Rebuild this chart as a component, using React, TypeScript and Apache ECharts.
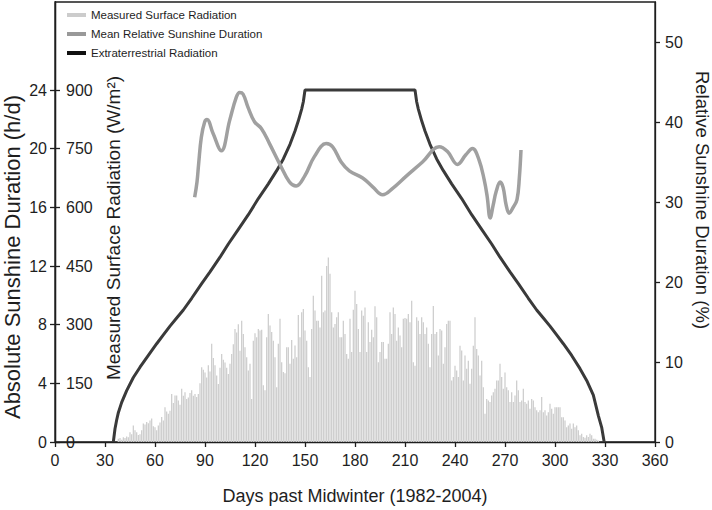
import React, { useEffect, useRef } from "react";
import * as echarts from "echarts";

// ---- Data ----
const X_TICKS = [0, 30, 60, 90, 120, 150, 180, 210, 240, 270, 300, 330, 360];
const HOURS_TICKS = [0, 4, 8, 12, 16, 20, 24];
const RADIATION_TICKS = [0, 150, 300, 450, 600, 750, 900];
const PERCENT_TICKS = [0, 10, 20, 30, 40, 50];

// Measured surface radiation (W/m²), one bar per day starting at day 38
const BAR_START_DAY = 38;
const measuredRadiation = [
  // 38-44
  8, 10, 6, 12, 10, 14, 12,
  // 45-54
  25, 20, 42, 30, 25, 18, 20, 30, 47, 45,
  // 55-64
  51, 48, 55, 60, 40, 38, 30, 42, 50, 64,
  // 65-74
  55, 89, 78, 72, 80, 123, 100, 119, 119, 106,
  // 75-84
  95, 136, 118, 127, 110, 114, 125, 132, 118, 123,
  // 85-94
  115, 123, 150, 191, 185, 178, 165, 196, 180, 251,
  // 95-104
  215, 196, 170, 148, 190, 225, 210, 203, 190, 174,
  // 105-110
  200, 225, 250, 289, 280, 301,
  // 111-120
  233, 310, 276, 242, 217, 183, 200, 110, 259, 278,
  // 121-130
  268, 289, 285, 287, 145, 132, 268, 327, 298, 281,
  // 131-140
  259, 217, 140, 251, 315, 204, 179, 176, 242, 242,
  // 141-150
  200, 261, 213, 247, 217, 325, 268, 332, 340, 285,
  // 151-160
  259, 191, 166, 289, 374, 336, 310, 310, 293, 425,
  // 161-170
  332, 336, 450, 472, 430, 332, 293, 302, 319, 332,
  // 171-180
  268, 268, 310, 276, 225, 213, 315, 230, 338, 387,
  // 181-190
  353, 289, 230, 336, 323, 344, 230, 306, 256, 287,
  // 191-200
  268, 347, 319, 204, 230, 256, 256, 213, 213, 251,
  // 201-206
  332, 276, 344, 327, 259, 293,
  // 207-216
  272, 242, 315, 317, 315, 327, 306, 361, 204, 195,
  // 217-226
  319, 310, 276, 319, 306, 276, 293, 251, 191, 276,
  // 227-236
  348, 276, 281, 221, 289, 285, 200, 242, 302, 310,
  // 237-246
  310, 157, 166, 195, 183, 166, 246, 234, 157, 221,
  // 247-256
  187, 208, 149, 187, 246, 319, 238, 221, 170, 208,
  // 257-266
  140, 72, 110, 106, 102, 119, 127, 136, 157, 157,
  // 267-276
  200, 166, 136, 178, 140, 132, 102, 127, 102, 119,
  // 277-286
  157, 132, 102, 106, 136, 102, 98, 106, 85, 110,
  // 287-296
  106, 89, 81, 76, 81, 115, 76, 81, 68, 76,
  // 297-306
  98, 85, 72, 89, 89, 89, 89, 63, 63, 55,
  // 307-316
  38, 42, 47, 34, 47, 38, 42, 30, 17, 21,
  // 317-326
  13, 11, 17, 13, 21, 17, 8, 8, 6, 4,
];

// Mean relative sunshine duration (%)
const relDays = [
  83.8, 85.2, 86.2, 87.8, 89.8, 91.2, 94.8, 99.8, 104.8, 108.8, 110.8, 112.8,
  115.7, 119.8, 123.8, 128.7, 134.7, 140.7, 144.7, 149.7, 155.7, 162.7, 166.6,
  171.7, 176.6, 184.6, 190.6, 196.6, 202.6, 210.6, 220.5, 230.5, 235.5, 241.5,
  246.5, 250.5, 254.5, 257.5, 259.3, 261.1, 262.9, 264.7, 267.1, 268.9, 270.7,
  272.5, 274.8, 277.2, 278.6, 279.6,
];
const relSunshine = [
  30.6, 32.5, 34.8, 38.1, 40.0, 40.3, 38.6, 36.4, 40.2, 43.1, 43.7, 43.5,
  41.9, 40.0, 39.2, 37.3, 34.8, 32.5, 32.0, 33.2, 35.7, 37.3, 36.9,
  35.0, 33.9, 33.0, 31.9, 30.9, 31.7, 33.2, 35.0, 36.9, 36.3, 34.7,
  35.9, 36.7, 35.2, 32.8, 30.7, 28.0, 29.6, 31.3, 32.5, 31.8, 29.6,
  28.6, 29.3, 30.3, 33.0, 36.5,
];

// Extraterrestrial radiation, expressed on the h/d scale
const extraDays = [
  35, 36, 37, 38, 40, 43, 47, 51, 56, 61, 65, 69, 73, 77, 82, 88, 93, 99, 104,
  110, 116, 122, 128, 133, 137, 141, 144, 146, 148, 149, 150, 216, 217, 218,
  220, 222, 225, 229, 233, 238, 244, 250, 256, 262, 267, 273, 278, 284, 289,
  293, 297, 301, 305, 310, 315, 319, 323, 326, 328, 329.5,
];
const extraHours = [
  0, 0.9, 1.5, 2.0, 2.7, 3.5, 4.4, 5.1, 5.9, 6.7, 7.3, 7.9, 8.45, 9.0, 9.8,
  10.8, 11.6, 12.6, 13.5, 14.5, 15.5, 16.6, 17.6, 18.5, 19.3, 20.3, 21.2, 21.9,
  22.7, 23.2, 24, 24, 23.2, 22.7, 21.9, 21.2, 20.3, 19.3, 18.5, 17.6, 16.6,
  15.5, 14.5, 13.5, 12.6, 11.6, 10.8, 9.8, 9.0, 8.45, 7.9, 7.3, 6.7, 5.9, 5.0,
  4.2, 3.2, 1.8, 1.0, 0,
];

const FONT = "'Liberation Sans', Arial, Helvetica, sans-serif";
const INK = "#1e1e1e";

export default function App() {
  const ref = useRef<HTMLDivElement>(null);

  useEffect(() => {
    if (!ref.current) return;
    const chart = echarts.init(ref.current, undefined, { renderer: "svg" });

    const barData = measuredRadiation.map((v, i) => [BAR_START_DAY + i, v]);
    const relData = relDays.map((d, i) => [d, relSunshine[i]]);
    const extraData = extraDays.map((d, i) => [d, extraHours[i]]);

    const axisLine = { show: true, lineStyle: { color: INK, width: 1.3 } };
    const tick = (inside: boolean, values: number[]) => ({
      show: true,
      inside,
      length: 5,
      customValues: values,
      lineStyle: { color: INK, width: 1.3 },
    });

    const title = (text: string, x: number, y: number, rot: number, size: number) => ({
      type: "text",
      x,
      y,
      rotation: rot,
      silent: true,
      style: {
        text,
        fontSize: size,
        fontFamily: FONT,
        fill: INK,
        textAlign: "center",
        textVerticalAlign: "middle",
        align: "center",
        verticalAlign: "middle",
      },
    });

    chart.setOption({
      animation: false,
      textStyle: { fontFamily: FONT },
      grid: {
        left: 55,
        right: 57,
        top: 2,
        bottom: 68,
        show: true,
        borderColor: INK,
        borderWidth: 1.3,
        containLabel: false,
      },
      legend: {
        orient: "vertical",
        left: 67,
        top: 8,
        padding: 0,
        itemWidth: 19,
        itemHeight: 4,
        itemGap: 5,
        icon: "rect",
        textStyle: { fontSize: 11.5, color: INK, fontFamily: FONT, lineHeight: 14 },
        data: [
          { name: "Measured Surface Radiation", itemStyle: { color: "#cccccc" } },
          { name: "Mean Relative Sunshine Duration", itemStyle: { color: "#999999" } },
          { name: "Extraterrestrial Radiation", itemStyle: { color: "#111111" } },
        ],
      },
      graphic: [
        title("Absolute Sunshine Duration (h/d)", 12, 257, Math.PI / 2, 22),
        title("Measured Surface Radiation (W/m²)", 113, 228, Math.PI / 2, 19),
        title("Relative Sunshine Duration (%)", 702, 200, -Math.PI / 2, 18.5),
      ],
      xAxis: {
        type: "value",
        min: 0,
        max: 360,
        interval: 30,
        name: "Days past Midwinter (1982-2004)",
        nameLocation: "middle",
        nameGap: 45,
        nameTextStyle: { fontSize: 18, color: INK, fontFamily: FONT },
        axisLine,
        axisTick: { show: true, length: 5, lineStyle: { color: INK, width: 1.3 } },
        axisLabel: { fontSize: 16, color: INK, margin: 10, customValues: X_TICKS },
        splitLine: { show: false },
      },
      yAxis: [
        {
          type: "value",
          position: "left",
          min: 0,
          max: 30,
          axisLine,
          axisTick: tick(false, HOURS_TICKS),
          axisLabel: { fontSize: 16, color: INK, margin: 8, customValues: HOURS_TICKS },
          splitLine: { show: false },
        },
        {
          type: "value",
          position: "left",
          min: 0,
          max: 1125,
          axisLine,
          axisTick: tick(true, RADIATION_TICKS),
          axisLabel: {
            inside: true,
            fontSize: 16,
            color: INK,
            margin: 11,
            customValues: RADIATION_TICKS,
          },
          splitLine: { show: false },
        },
        {
          type: "value",
          position: "right",
          min: 0,
          max: 55,
          axisLine,
          axisTick: tick(false, PERCENT_TICKS),
          axisLabel: { fontSize: 16, color: INK, margin: 10, customValues: PERCENT_TICKS },
          splitLine: { show: false },
        },
      ],
      series: [
        {
          name: "Measured Surface Radiation",
          type: "bar",
          yAxisIndex: 1,
          data: barData,
          barWidth: 1.3,
          itemStyle: { color: "#cfcfcf" },
          z: 1,
        },
        {
          name: "Extraterrestrial Radiation",
          type: "line",
          yAxisIndex: 0,
          data: extraData,
          showSymbol: false,
          symbol: "none",
          lineStyle: { color: "#3a3a3a", width: 3 },
          itemStyle: { color: "#111111" },
          z: 3,
        },
        {
          name: "Mean Relative Sunshine Duration",
          type: "line",
          yAxisIndex: 2,
          data: relData,
          smooth: 0.4,
          showSymbol: false,
          symbol: "none",
          lineStyle: { color: "#a0a0a0", width: 3.5 },
          itemStyle: { color: "#999999" },
          z: 4,
        },
      ],
    });

    return () => chart.dispose();
  }, []);

  return <div ref={ref} style={{ width: 712, height: 510, position: "absolute", left: 0, top: 0 }} />;
}
